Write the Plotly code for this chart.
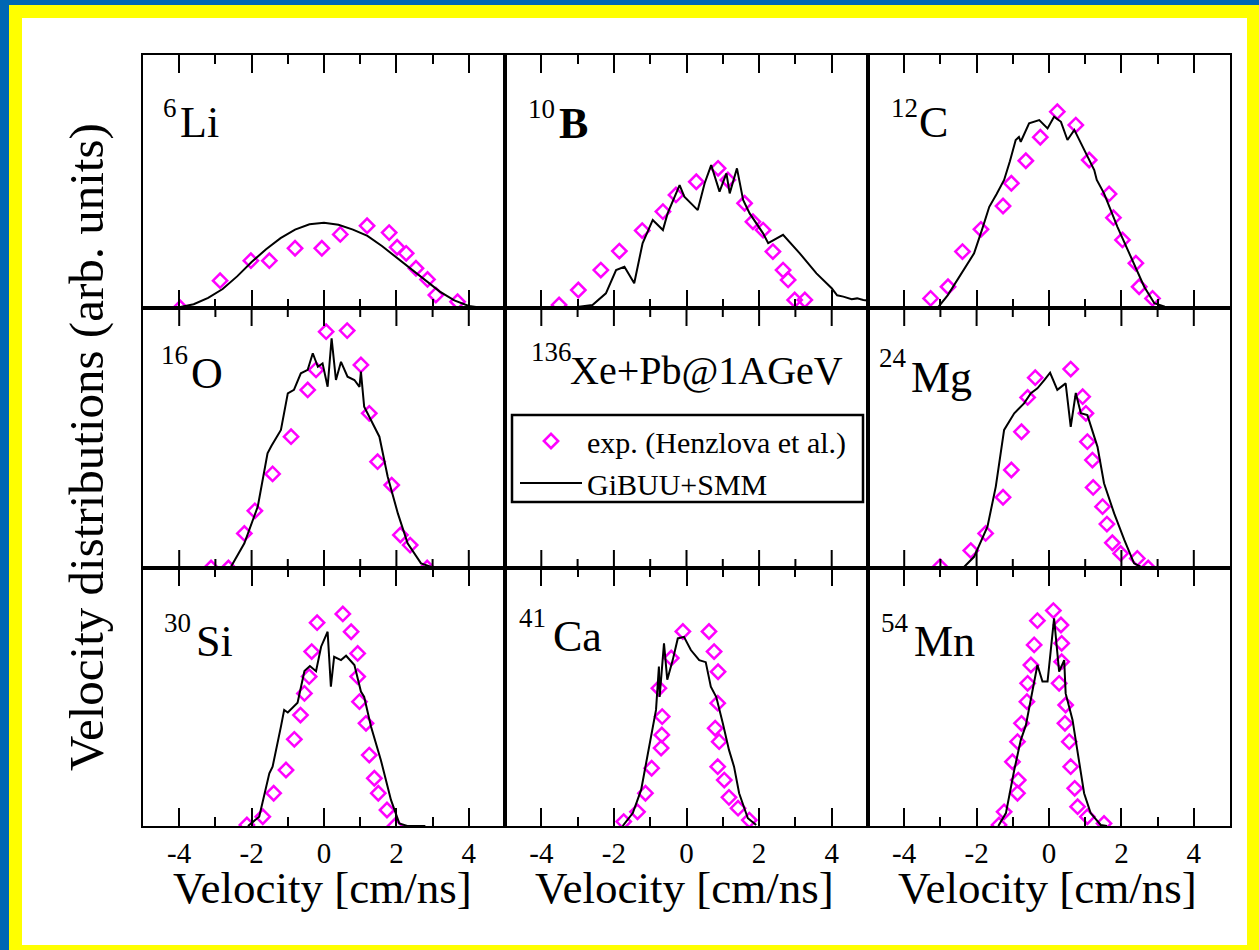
import plotly.graph_objects as go

# ---------------------------------------------------------------
# Velocity distributions of fragments, 136Xe+Pb @ 1 AGeV
# exp. = Henzlova et al. (open diamonds), GiBUU+SMM = solid line
# ---------------------------------------------------------------

tick_vals = [-4, -2, 0, 2, 4]
tick_text = ["-4", "-2", "0", "2", "4"]
minor_vals = [-3, -1, 1, 3]

# 6Li
li_exp_v = [-3.97, -2.87, -2.02, -1.51, -0.80, -0.06, 0.45, 1.19, 1.80, 2.02, 2.27, 2.54, 2.86, 3.09, 3.69]
li_exp_y = [0.0, 0.108, 0.187, 0.187, 0.236, 0.236, 0.291, 0.325, 0.298, 0.240, 0.216, 0.157, 0.113, 0.051, 0.025]
li_sim_v = [-5.0, -4.5, -4.0, -3.6, -3.2, -2.8, -2.4, -2.0, -1.6, -1.2, -0.8, -0.4, 0.0, 0.4, 0.8,
            1.2, 1.6, 2.0, 2.4, 2.8, 3.2, 3.6, 4.0, 4.4, 5.0]
li_sim_y = [0.0, 0.0, 0.003, 0.015, 0.040, 0.075, 0.125, 0.182, 0.232, 0.276, 0.310, 0.331, 0.337, 0.329, 0.310,
            0.285, 0.245, 0.200, 0.153, 0.108, 0.065, 0.030, 0.008, 0.0, 0.0]

# 10B
b_exp_v = [-3.51, -2.98, -2.36, -1.85, -1.22, -0.65, -0.29, 0.27, 0.87, 1.14, 1.60, 1.83, 2.11, 2.38, 2.66, 2.80, 2.98, 3.26]
b_exp_y = [0.012, 0.071, 0.150, 0.225, 0.306, 0.381, 0.447, 0.499, 0.552, 0.506, 0.414, 0.341, 0.308, 0.223, 0.150, 0.111, 0.032, 0.032]
b_sim_v = [-4.0, -3.5, -2.96, -2.59, -2.22, -1.94, -1.71, -1.44, -1.21, -0.93, -0.65, -0.52, -0.19, -0.06,
           0.31, 0.50, 0.68, 0.91, 1.10, 1.19, 1.39, 1.56, 1.74, 2.11, 2.25, 2.66, 3.12, 3.58, 4.00, 4.15,
           4.32, 4.55, 4.70, 4.87, 4.98]
b_sim_y = [0.0, 0.002, 0.005, 0.012, 0.058, 0.150, 0.163, 0.098, 0.256, 0.348, 0.308, 0.374, 0.486, 0.440,
           0.387, 0.493, 0.565, 0.460, 0.532, 0.453, 0.552, 0.427, 0.374, 0.295, 0.256, 0.289, 0.216, 0.137, 0.078, 0.050,
           0.045, 0.035, 0.038, 0.032, 0.030]

# 12C
c_exp_v = [-3.27, -2.79, -2.39, -1.88, -1.27, -1.04, -0.64, -0.24, 0.23, 0.74, 1.11, 1.66, 1.78, 2.03, 2.40, 2.49, 2.86]
c_exp_y = [0.038, 0.084, 0.223, 0.311, 0.403, 0.493, 0.582, 0.675, 0.776, 0.723, 0.585, 0.451, 0.357, 0.269, 0.177, 0.084, 0.038]
c_sim_v = [-3.3, -3.08, -2.8, -2.53, -2.07, -1.85, -1.65, -1.45, -1.24, -1.08, -0.92, -0.83, -0.78, -0.55, -0.27,
           -0.04, 0.14, 0.33, 0.51, 0.70, 0.85, 0.97, 1.12, 1.25, 1.32, 1.52, 1.89, 2.26, 2.63, 2.91, 3.2, 3.6, 4.2, 5.0]
c_sim_y = [0.0, 0.0, 0.050, 0.111, 0.216, 0.310, 0.400, 0.450, 0.506, 0.580, 0.664, 0.676, 0.657, 0.730, 0.743,
           0.710, 0.756, 0.736, 0.664, 0.704, 0.660, 0.625, 0.580, 0.545, 0.506, 0.453, 0.321, 0.203, 0.084, 0.019,
           0.005, 0.0, 0.0, 0.0]

# 16O
o_exp_v = [-3.12, -2.64, -2.20, -1.91, -1.42, -0.91, -0.45, -0.22, 0.06, 0.64, 1.02, 1.25, 1.48, 1.87, 2.11, 2.38, 2.85]
o_exp_y = [0.0, 0.0, 0.133, 0.220, 0.362, 0.505, 0.685, 0.762, 0.909, 0.913, 0.781, 0.595, 0.409, 0.319, 0.127, 0.088, 0.0]
o_sim_v = [-2.98, -2.57, -2.20, -1.83, -1.56, -1.45, -1.19, -1.00, -0.83, -0.64, -0.45, -0.31, -0.17, -0.04, 0.10,
           0.21, 0.33, 0.47, 0.65, 0.84, 0.98, 1.02, 1.11, 1.39, 1.53, 1.76, 2.04, 2.31, 2.68, 3.05, 3.78]
o_sim_y = [0.0, 0.005, 0.095, 0.236, 0.441, 0.470, 0.531, 0.672, 0.685, 0.749, 0.762, 0.826, 0.774, 0.787, 0.697,
           0.883, 0.723, 0.793, 0.736, 0.723, 0.697, 0.755, 0.620, 0.543, 0.505, 0.351, 0.210, 0.095, 0.018, 0.0, 0.0]

# 24Mg
mg_exp_v = [-3.01, -2.16, -1.75, -1.27, -1.04, -0.76, -0.59, -0.38, 0.60, 0.93, 1.02, 1.06, 1.20, 1.22, 1.48, 1.60,
            1.75, 1.98, 2.44, 2.74]
mg_exp_y = [0.005, 0.067, 0.133, 0.272, 0.377, 0.524, 0.656, 0.732, 0.765, 0.659, 0.595, 0.486, 0.415, 0.310, 0.236, 0.169,
            0.097, 0.056, 0.037, 0.0]
mg_sim_v = [-3.0, -2.34, -2.07, -1.70, -1.47, -1.35, -1.30, -1.24, -0.96, -0.69, -0.50, -0.32, -0.13, 0.03, 0.23,
            0.46, 0.60, 0.74, 0.88, 1.06, 1.34, 1.52, 1.80, 2.08, 2.35, 2.6, 3.0]
mg_sim_y = [0.0, 0.005, 0.043, 0.159, 0.313, 0.428, 0.470, 0.531, 0.595, 0.633, 0.672, 0.691, 0.723, 0.751, 0.685,
            0.710, 0.543, 0.673, 0.595, 0.588, 0.466, 0.326, 0.210, 0.108, 0.018, 0.0, 0.0]

# 30Si
si_exp_v = [-2.13, -1.69, -1.39, -1.05, -0.82, -0.65, -0.54, -0.41, -0.34, -0.19, 0.52, 0.75, 0.93, 0.93, 0.98,
            1.16, 1.25, 1.39, 1.50, 1.74, 1.96]
si_exp_y = [0.004, 0.036, 0.127, 0.217, 0.336, 0.430, 0.514, 0.579, 0.676, 0.788, 0.822, 0.753, 0.669, 0.579, 0.482,
            0.398, 0.275, 0.185, 0.127, 0.062, 0.0]
si_sim_v = [-2.1, -1.79, -1.51, -1.42, -1.19, -1.10, -1.00, -0.73, -0.54, -0.39, -0.22, -0.08, 0.10, 0.19, 0.28,
            0.47, 0.61, 0.84, 1.02, 1.11, 1.30, 1.57, 1.85, 2.08, 2.3, 2.8]
si_sim_y = [0.0, 0.036, 0.204, 0.230, 0.385, 0.450, 0.440, 0.478, 0.601, 0.620, 0.600, 0.695, 0.753, 0.540, 0.656,
            0.643, 0.660, 0.624, 0.521, 0.500, 0.385, 0.256, 0.101, 0.010, 0.0, 0.0]

# 41Ca
ca_exp_v = [-1.73, -1.35, -1.13, -0.96, -0.70, -0.68, -0.67, -0.76, -0.42, -0.10, 0.62, 0.76, 0.87, 0.86, 0.79,
            0.90, 0.86, 1.04, 1.17, 1.42, 1.73]
ca_exp_y = [0.017, 0.055, 0.127, 0.224, 0.302, 0.353, 0.424, 0.534, 0.651, 0.754, 0.754, 0.676, 0.598, 0.476, 0.379,
            0.327, 0.230, 0.178, 0.111, 0.069, 0.023]
ca_sim_v = [-1.76, -1.48, -1.25, -1.02, -0.84, -0.76, -0.74, -0.62, -0.53, -0.38, -0.24, -0.07, 0.12, 0.35, 0.53,
            0.67, 0.82, 1.00, 1.17, 1.31, 1.45, 1.69, 1.92]
ca_sim_y = [0.0, 0.050, 0.140, 0.308, 0.450, 0.618, 0.500, 0.708, 0.567, 0.643, 0.727, 0.733, 0.682, 0.643, 0.635,
            0.540, 0.500, 0.398, 0.295, 0.230, 0.127, 0.030, 0.004]

# 54Mn
mn_exp_v = [-1.38, -1.24, -0.87, -0.85, -1.01, -0.87, -0.76, -0.61, -0.59, -0.50, -0.41, -0.32, 0.12, 0.33, 0.35,
            0.35, 0.28, 0.46, 0.44, 0.56, 0.60, 0.71, 0.79, 1.06, 1.52]
mn_exp_y = [0.004, 0.055, 0.127, 0.178, 0.249, 0.327, 0.398, 0.482, 0.553, 0.624, 0.702, 0.796, 0.835, 0.779, 0.708,
            0.637, 0.553, 0.469, 0.398, 0.327, 0.230, 0.146, 0.075, 0.036, 0.010]
mn_sim_v = [-1.4, -1.19, -0.96, -0.78, -0.64, -0.50, -0.32, -0.18, -0.04, 0.14, 0.28, 0.42, 0.46, 0.65, 0.79,
            0.97, 1.15, 1.43, 1.6]
mn_sim_y = [0.0, 0.050, 0.217, 0.333, 0.390, 0.488, 0.624, 0.560, 0.560, 0.805, 0.598, 0.643, 0.514, 0.411, 0.282,
            0.127, 0.050, 0.004, 0.0]

exp_name = "exp. (Henzlova et al.)"
sim_name = "GiBUU+SMM"
x_title = "Velocity [cm/ns]"
y_title = "Velocity distributions (arb. units)"

# ---------------------------------------------------------------
# page geometry (pixels)
W, H = 1259, 950
FONT = "Liberation Serif"
MAGENTA = "#FF00FF"
BLUE = "#0066B3"
YELLOW = "#FFFF00"
col_px = [(143, 505), (505, 868), (868, 1230)]
row_px = [(55, 308), (308, 568), (568, 826)]
MAJOR_LEN, MINOR_LEN = 18, 9   # tick lengths in px

labels = [
    ("6", "Li", 161, 118, 178, 138, 44, False),
    ("10", "B", 526, 119, 557, 139, 44, True),
    ("12", "C", 889, 118, 917, 138, 44, False),
    ("16", "O", 159, 365, 189, 389, 44, False),
    ("136", "Xe+Pb@1AGeV", 529, 362, 568, 385, 40, False),
    ("24", "Mg", 877, 368, 909, 393, 44, False),
    ("30", "Si", 162, 633, 194, 657, 44, False),
    ("41", "Ca", 517, 628, 551, 652, 44, False),
    ("54", "Mn", 879, 633, 912, 657, 44, False),
]

panel_data = {
    1: (li_exp_v, li_exp_y, li_sim_v, li_sim_y),
    2: (b_exp_v, b_exp_y, b_sim_v, b_sim_y),
    3: (c_exp_v, c_exp_y, c_sim_v, c_sim_y),
    4: (o_exp_v, o_exp_y, o_sim_v, o_sim_y),
    5: None,
    6: (mg_exp_v, mg_exp_y, mg_sim_v, mg_sim_y),
    7: (si_exp_v, si_exp_y, si_sim_v, si_sim_y),
    8: (ca_exp_v, ca_exp_y, ca_sim_v, ca_sim_y),
    9: (mn_exp_v, mn_exp_y, mn_sim_v, mn_sim_y),
}


def px_x(x):
    return x / W


def px_y(y):
    return 1 - y / H


fig = go.Figure()
layout_axes = {}
annotations = []
shapes = []
legend_done = False

for slot in range(1, 10):
    data = panel_data[slot]
    r, c = (slot - 1) // 3, (slot - 1) % 3
    xl, xr = col_px[c]
    yt, yb = row_px[r]
    xa = "xaxis" if slot == 1 else f"xaxis{slot}"
    ya = "yaxis" if slot == 1 else f"yaxis{slot}"
    xref = "x" if slot == 1 else f"x{slot}"
    yref = "y" if slot == 1 else f"y{slot}"
    middle_row = (r == 1)

    xdef = dict(
        domain=[px_x(xl), px_x(xr)], anchor=yref, range=[-5, 5],
        tickmode="array", tickvals=tick_vals, ticktext=tick_text,
        showline=True, linewidth=2, linecolor="black", mirror="ticks",
        showgrid=False, zeroline=False,
        showticklabels=(r == 2),
        tickfont=dict(family=FONT, size=29, color="black"),
    )
    if middle_row:
        # tick marks drawn as lines on the panel's own x/y scales
        xdef["ticks"] = ""
        h = yb - yt
        for vals, ln in ((tick_vals, MAJOR_LEN), (minor_vals, MINOR_LEN)):
            for v in vals:
                for y0, y1 in ((0.0, ln / h), (1.0, 1.0 - ln / h)):
                    shapes.append(dict(type="line", xref=xref, yref=yref,
                                       x0=v, x1=v, y0=y0, y1=y1,
                                       line=dict(color="black", width=2), layer="above"))
    else:
        xdef.update(ticks="inside", ticklen=MAJOR_LEN, tickwidth=2, tickcolor="black",
                    minor=dict(ticks="inside", tickmode="array", tickvals=minor_vals,
                               ticklen=MINOR_LEN, tickwidth=2, tickcolor="black"))
    layout_axes[xa] = xdef
    layout_axes[ya] = dict(
        domain=[px_y(yb), px_y(yt)], anchor=xref, range=[0, 1],
        showline=True, linewidth=2, linecolor="black", mirror=True,
        ticks="", showticklabels=False, showgrid=False, zeroline=False,
    )

    if data is None:
        continue
    ev, ey, sv, sy = data
    fig.add_trace(go.Scatter(
        x=ev, y=ey, mode="markers", name=exp_name, xaxis=xref, yaxis=yref,
        marker=dict(symbol="diamond-open", size=11, color=MAGENTA, line=dict(width=2.5, color=MAGENTA)),
        showlegend=not legend_done,
    ))
    fig.add_trace(go.Scatter(
        x=sv, y=sy, mode="lines", name=sim_name, xaxis=xref, yaxis=yref,
        line=dict(color="black", width=2),
        showlegend=not legend_done,
    ))
    legend_done = True

for mass, sym, mx, mb, sx, sb, size, bold in labels:
    annotations.append(dict(
        text=mass, xref="paper", yref="paper", x=px_x(mx), y=px_y(mb + 7),
        xanchor="left", yanchor="bottom", showarrow=False,
        font=dict(family=FONT, size=27, color="black"),
    ))
    annotations.append(dict(
        text=f"<b>{sym}</b>" if bold else sym, xref="paper", yref="paper",
        x=px_x(sx), y=px_y(sb + 1 + 0.216 * size),
        xanchor="left", yanchor="bottom", showarrow=False,
        font=dict(family=FONT, size=size, color="black"),
    ))

for xl, xr in col_px:
    annotations.append(dict(
        text=x_title, xref="paper", yref="paper", x=px_x((xl + xr) / 2 - 2), y=px_y(905 + 10),
        xanchor="center", yanchor="bottom", showarrow=False,
        font=dict(family=FONT, size=45, color="black"),
    ))

annotations.append(dict(
    text=y_title, xref="paper", yref="paper", x=px_x(86), y=px_y(447),
    xanchor="center", yanchor="middle", textangle=-90, showarrow=False,
    font=dict(family=FONT, size=49, color="black"),
))


def strip(x0, x1, y0, y1, color):
    return dict(type="rect", xref="paper", yref="paper",
                x0=px_x(x0), x1=px_x(x1), y0=px_y(y1), y1=px_y(y0),
                fillcolor=color, line=dict(width=0), layer="above")


shapes += [
    strip(0, 9, 0, H, BLUE),
    strip(0, W, 0, 5, BLUE),
    strip(9, 22, 5, H, YELLOW),
    strip(9, W, 5, 18, YELLOW),
    strip(1247, W, 5, H, YELLOW),
    strip(9, W, 945, H, YELLOW),
    dict(type="rect", xref="paper", yref="paper", x0=px_x(512), x1=px_x(863), y0=px_y(502), y1=px_y(415),
         fillcolor="rgba(0,0,0,0)", line=dict(width=2.5, color="black")),
]

fig.update_layout(
    width=W, height=H, autosize=False,
    margin=dict(l=0, r=0, t=0, b=0),
    paper_bgcolor="white", plot_bgcolor="white",
    annotations=annotations, shapes=shapes,
    legend=dict(x=px_x(515), y=px_y(415), xanchor="left", yanchor="top",
                bgcolor="rgba(0,0,0,0)", borderwidth=0, itemwidth=62,
                font=dict(family=FONT, size=30, color="black"), tracegroupgap=0),
    **layout_axes,
)

fig.write_html("out.html")
